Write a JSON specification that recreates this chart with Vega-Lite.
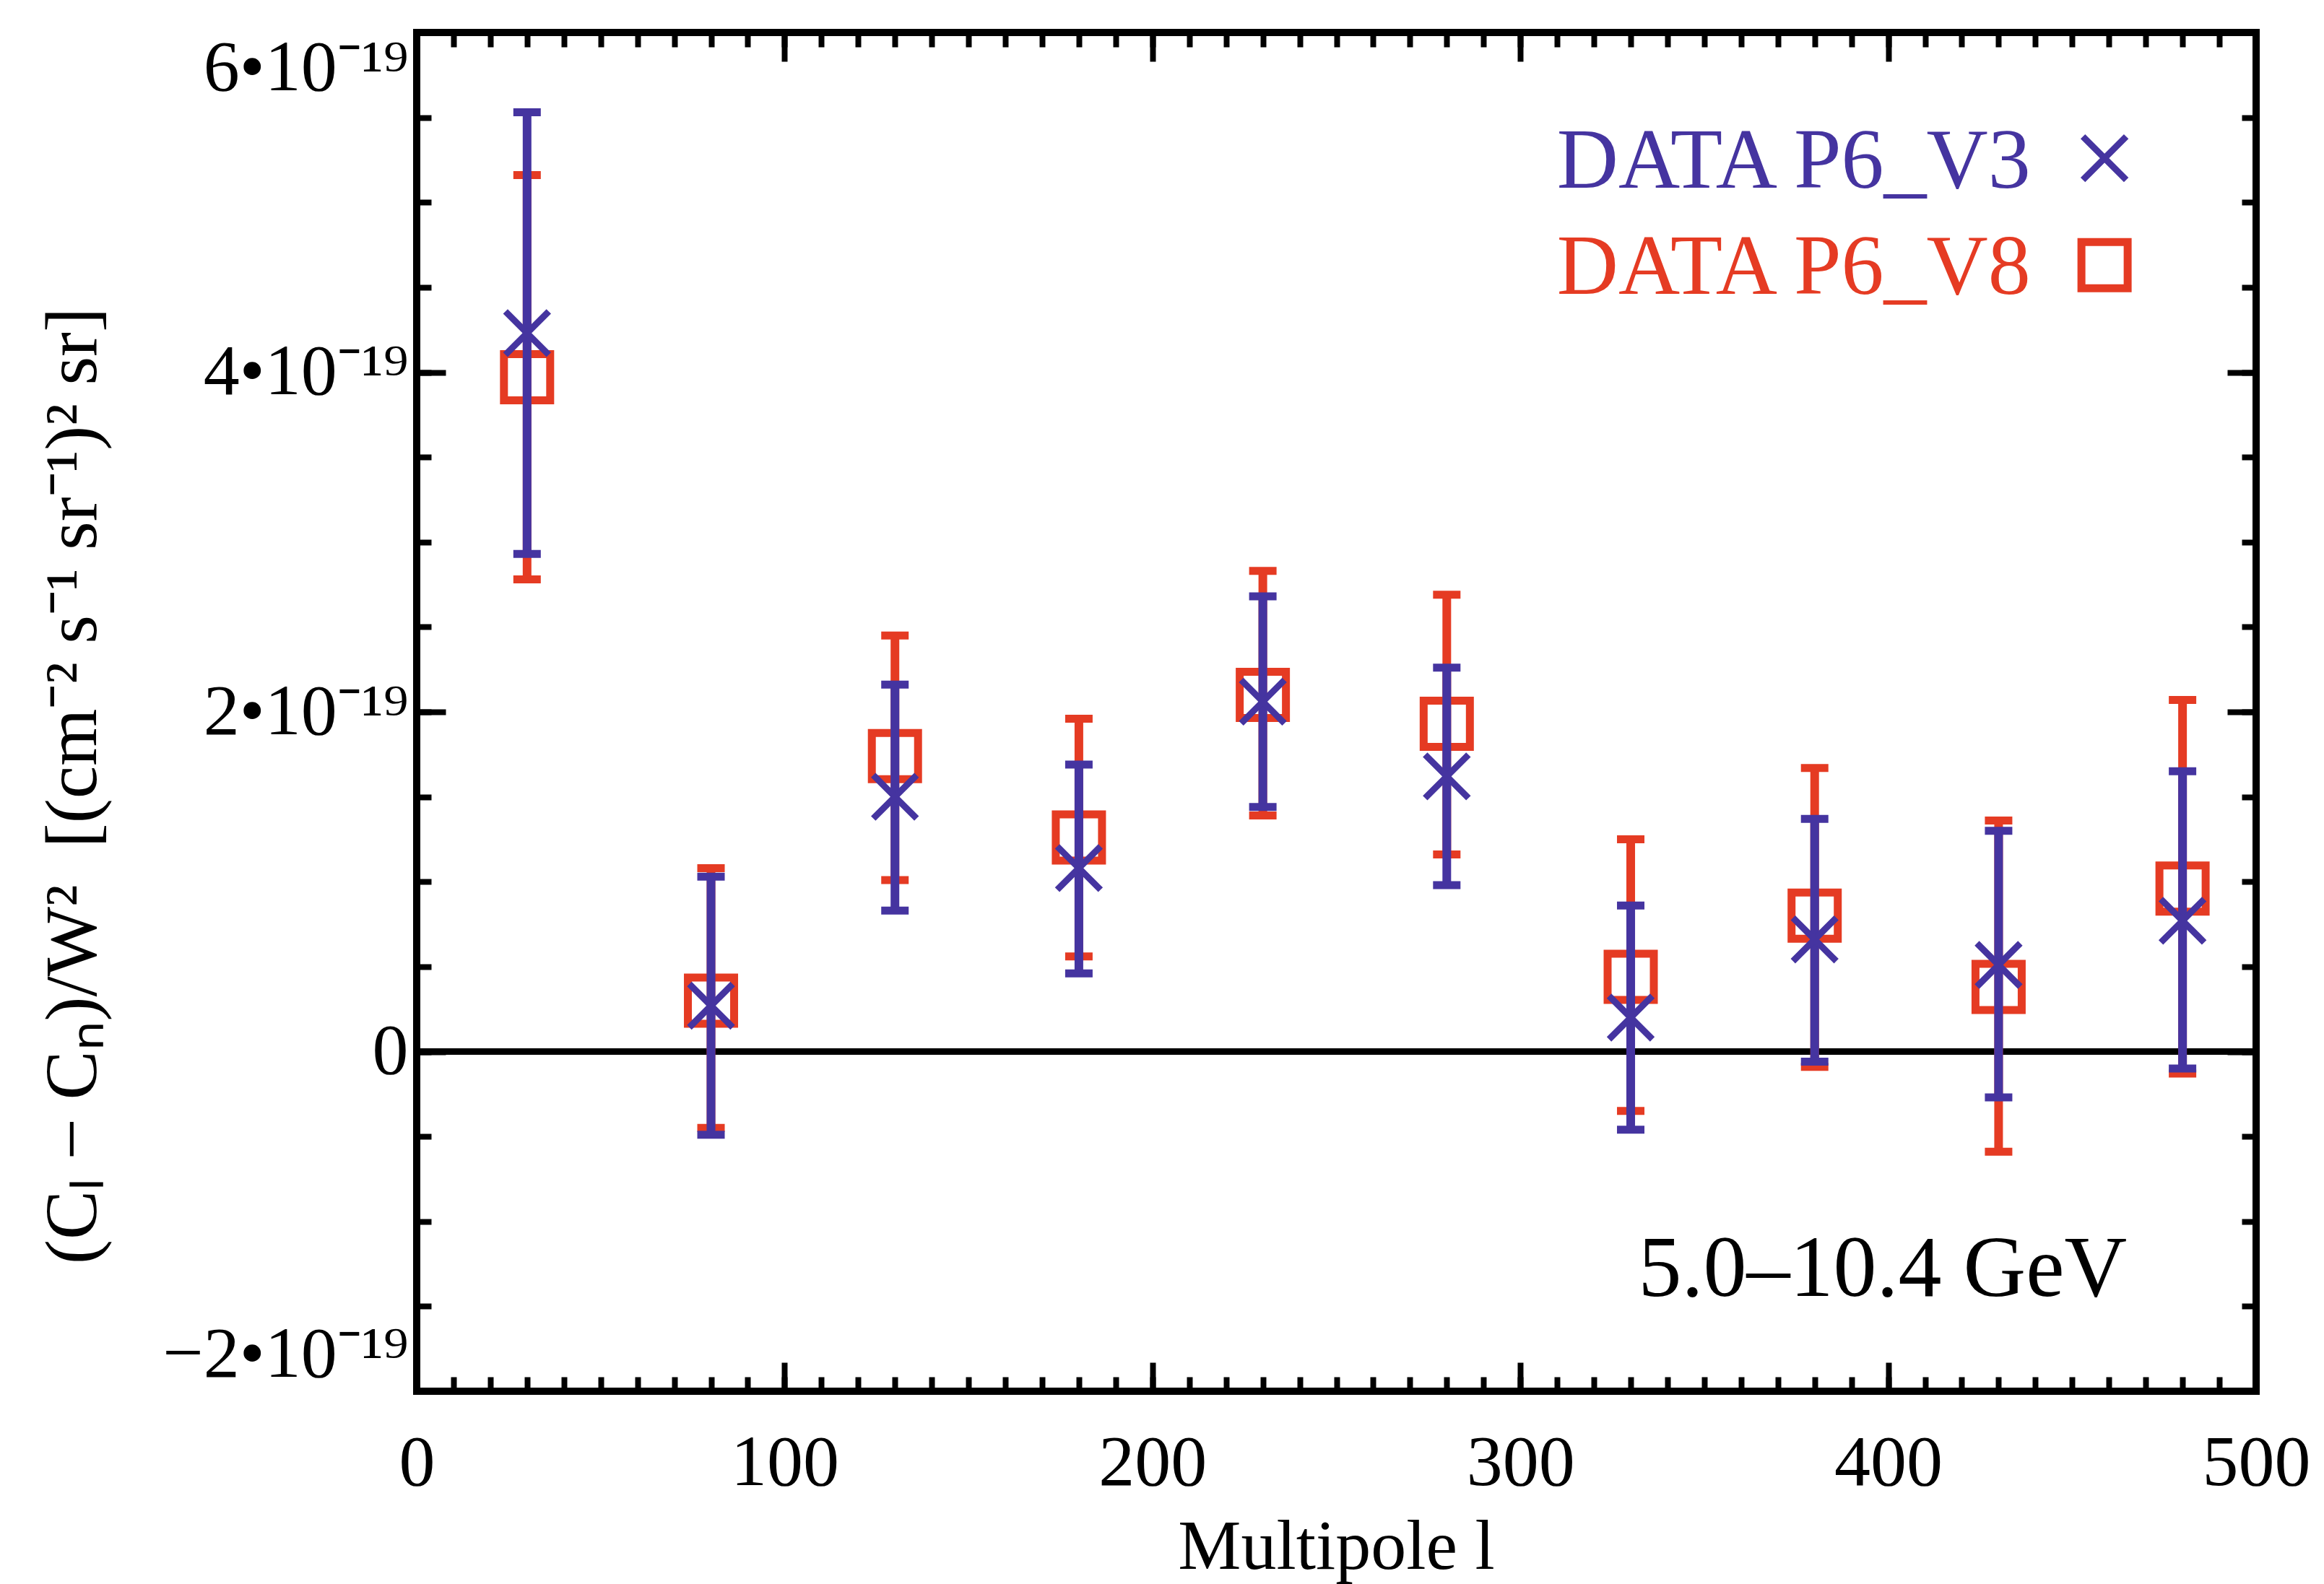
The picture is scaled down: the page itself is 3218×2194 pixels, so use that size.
{
  "$schema": "https://vega.github.io/schema/vega-lite/v6.json",
  "width": 2547,
  "height": 1882,
  "autosize": {"type": "none"},
  "padding": {"left": 577, "top": 45, "right": 94, "bottom": 267},
  "background": "white",
  "config": {
    "view": {"stroke": "black", "strokeWidth": 10},
    "font": "Liberation Serif",
    "axis": {"grid": false, "domain": false, "labelColor": "black", "titleColor": "black", "tickColor": "black", "labelLimit": 0}
  },
  "data": {
    "values": [
      {"l": 30, "series": "DATA P6_V8", "v": 3.97e-19, "lo": 2.78e-19, "hi": 5.16e-19},
      {"l": 80, "series": "DATA P6_V8", "v": 0.30e-19, "lo": -0.45e-19, "hi": 1.08e-19},
      {"l": 130, "series": "DATA P6_V8", "v": 1.74e-19, "lo": 1.01e-19, "hi": 2.45e-19},
      {"l": 180, "series": "DATA P6_V8", "v": 1.26e-19, "lo": 0.56e-19, "hi": 1.96e-19},
      {"l": 230, "series": "DATA P6_V8", "v": 2.10e-19, "lo": 1.39e-19, "hi": 2.83e-19},
      {"l": 280, "series": "DATA P6_V8", "v": 1.93e-19, "lo": 1.16e-19, "hi": 2.69e-19},
      {"l": 330, "series": "DATA P6_V8", "v": 0.44e-19, "lo": -0.35e-19, "hi": 1.25e-19},
      {"l": 380, "series": "DATA P6_V8", "v": 0.80e-19, "lo": -0.09e-19, "hi": 1.67e-19},
      {"l": 430, "series": "DATA P6_V8", "v": 0.38e-19, "lo": -0.59e-19, "hi": 1.36e-19},
      {"l": 480, "series": "DATA P6_V8", "v": 0.96e-19, "lo": -0.13e-19, "hi": 2.07e-19},
      {"l": 30, "series": "DATA P6_V3", "v": 4.23e-19, "lo": 2.93e-19, "hi": 5.53e-19},
      {"l": 80, "series": "DATA P6_V3", "v": 0.27e-19, "lo": -0.49e-19, "hi": 1.03e-19},
      {"l": 130, "series": "DATA P6_V3", "v": 1.50e-19, "lo": 0.83e-19, "hi": 2.16e-19},
      {"l": 180, "series": "DATA P6_V3", "v": 1.08e-19, "lo": 0.46e-19, "hi": 1.69e-19},
      {"l": 230, "series": "DATA P6_V3", "v": 2.06e-19, "lo": 1.44e-19, "hi": 2.68e-19},
      {"l": 280, "series": "DATA P6_V3", "v": 1.62e-19, "lo": 0.98e-19, "hi": 2.26e-19},
      {"l": 330, "series": "DATA P6_V3", "v": 0.20e-19, "lo": -0.46e-19, "hi": 0.86e-19},
      {"l": 380, "series": "DATA P6_V3", "v": 0.66e-19, "lo": -0.06e-19, "hi": 1.37e-19},
      {"l": 430, "series": "DATA P6_V3", "v": 0.51e-19, "lo": -0.27e-19, "hi": 1.30e-19},
      {"l": 480, "series": "DATA P6_V3", "v": 0.77e-19, "lo": -0.10e-19, "hi": 1.65e-19}
    ]
  },
  "resolve": {"axis": {"x": "independent", "y": "independent"}},
  "layer": [
    {
      "mark": {"type": "rule", "color": "black", "strokeWidth": 8},
      "encoding": {
        "y": {"datum": 0, "type": "quantitative", "scale": {"domain": [-2e-19, 6e-19], "nice": false, "zero": false},
          "axis": {"orient": "left", "values": [-2e-19, 0, 2e-19, 4e-19, 6e-19], "ticks": false, "labelFont": "Liberation Serif", "labelFontSize": 100, "labelPadding": 12, "labelFlush": true, "labelOverlap": false, "labelLimit": 0,
            "labelExpr": "datum.value == 0 ? '0' : (datum.value < 0 ? '\u2212' : '') + abs(round(datum.value * 1e19)) + '\u2022' + '10\u207b\u00b9\u2079'",
            "title": "(C\u2097 \u2212 C\u2099)/W\u00b2\u00a0\u00a0[(cm\u207b\u00b2\u00a0s\u207b\u00b9\u00a0sr\u207b\u00b9)\u00b2\u00a0sr]",
            "titleFont": "Liberation Serif", "titleFontSize": 102, "titleFontWeight": "normal", "titleAngle": -90, "titleAlign": "center", "titleBaseline": "alphabetic", "titleX": -445, "titleY": 1043, "titleLimit": 0}}
      }
    },
    {
      "transform": [{"filter": "datum.series == 'DATA P6_V8'"}],
      "mark": {"type": "rule", "color": "#e53b23", "strokeWidth": 12},
      "encoding": {
        "x": {"field": "l", "type": "quantitative", "scale": {"domain": [0, 500], "nice": false, "zero": false},
          "axis": {"orient": "bottom", "values": [0, 100, 200, 300, 400, 500], "ticks": false, "labelFont": "Liberation Serif", "labelFontSize": 100, "labelPadding": 50, "labelFlush": false, "labelOverlap": false,
            "title": "Multipole l", "titleFont": "Liberation Serif", "titleFontSize": 98, "titleFontWeight": "normal", "titleBaseline": "alphabetic", "titleAlign": "center", "titleX": 1273, "titleY": 245}},
        "y": {"field": "lo", "type": "quantitative", "scale": {"domain": [-2e-19, 6e-19], "nice": false, "zero": false},
          "axis": {"orient": "left", "values": [-2e-19, 0, 2e-19, 4e-19, 6e-19], "labels": false, "title": null, "tickSize": -40, "tickWidth": 8}},
        "y2": {"field": "hi"}
      }
    },
    {
      "transform": [{"filter": "datum.series == 'DATA P6_V8'"}],
      "mark": {"type": "tick", "orient": "horizontal", "color": "#e53b23", "size": 38, "thickness": 11, "opacity": 1},
      "encoding": {
        "x": {"field": "l", "type": "quantitative", "scale": {"domain": [0, 500], "nice": false, "zero": false},
          "axis": {"orient": "bottom", "values": [0, 100, 200, 300, 400, 500], "labels": false, "title": null, "tickSize": -40, "tickWidth": 8}},
        "y": {"field": "lo", "type": "quantitative", "scale": {"domain": [-2e-19, 6e-19], "nice": false, "zero": false},
          "axis": {"orient": "left", "values": [-2e-19, -1.5e-19, -1e-19, -0.5e-19, 0, 0.5e-19, 1e-19, 1.5e-19, 2e-19, 2.5e-19, 3e-19, 3.5e-19, 4e-19, 4.5e-19, 5e-19, 5.5e-19, 6e-19], "labels": false, "title": null, "tickSize": -20, "tickWidth": 8}}
      }
    },
    {
      "transform": [{"filter": "datum.series == 'DATA P6_V8'"}],
      "mark": {"type": "tick", "orient": "horizontal", "color": "#e53b23", "size": 38, "thickness": 11, "opacity": 1},
      "encoding": {
        "x": {"field": "l", "type": "quantitative", "scale": {"domain": [0, 500], "nice": false, "zero": false},
          "axis": {"orient": "bottom", "values": [0, 10, 20, 30, 40, 50, 60, 70, 80, 90, 100, 110, 120, 130, 140, 150, 160, 170, 180, 190, 200, 210, 220, 230, 240, 250, 260, 270, 280, 290, 300, 310, 320, 330, 340, 350, 360, 370, 380, 390, 400, 410, 420, 430, 440, 450, 460, 470, 480, 490, 500], "labels": false, "title": null, "tickSize": -20, "tickWidth": 8}},
        "y": {"field": "hi", "type": "quantitative", "scale": {"domain": [-2e-19, 6e-19], "nice": false, "zero": false},
          "axis": {"orient": "right", "values": [-2e-19, 0, 2e-19, 4e-19, 6e-19], "labels": false, "title": null, "tickSize": -40, "tickWidth": 8}}
      }
    },
    {
      "transform": [{"filter": "datum.series == 'DATA P6_V8'"}],
      "mark": {"type": "point", "shape": "square", "filled": false, "color": "#e53b23", "size": 4096, "strokeWidth": 11, "opacity": 1},
      "encoding": {
        "x": {"field": "l", "type": "quantitative", "scale": {"domain": [0, 500], "nice": false, "zero": false},
          "axis": {"orient": "top", "values": [0, 100, 200, 300, 400, 500], "labels": false, "title": null, "tickSize": -40, "tickWidth": 8}},
        "y": {"field": "v", "type": "quantitative", "scale": {"domain": [-2e-19, 6e-19], "nice": false, "zero": false},
          "axis": {"orient": "right", "values": [-2e-19, -1.5e-19, -1e-19, -0.5e-19, 0, 0.5e-19, 1e-19, 1.5e-19, 2e-19, 2.5e-19, 3e-19, 3.5e-19, 4e-19, 4.5e-19, 5e-19, 5.5e-19, 6e-19], "labels": false, "title": null, "tickSize": -20, "tickWidth": 8}}
      }
    },
    {
      "transform": [{"filter": "datum.series == 'DATA P6_V3'"}],
      "mark": {"type": "rule", "color": "#4534a0", "strokeWidth": 12},
      "encoding": {
        "x": {"field": "l", "type": "quantitative", "scale": {"domain": [0, 500], "nice": false, "zero": false},
          "axis": {"orient": "top", "values": [0, 10, 20, 30, 40, 50, 60, 70, 80, 90, 100, 110, 120, 130, 140, 150, 160, 170, 180, 190, 200, 210, 220, 230, 240, 250, 260, 270, 280, 290, 300, 310, 320, 330, 340, 350, 360, 370, 380, 390, 400, 410, 420, 430, 440, 450, 460, 470, 480, 490, 500], "labels": false, "title": null, "tickSize": -20, "tickWidth": 8}},
        "y": {"field": "lo", "type": "quantitative", "scale": {"domain": [-2e-19, 6e-19], "nice": false, "zero": false}, "axis": null},
        "y2": {"field": "hi"}
      }
    },
    {
      "transform": [{"filter": "datum.series == 'DATA P6_V3'"}],
      "mark": {"type": "tick", "orient": "horizontal", "color": "#4534a0", "size": 38, "thickness": 11, "opacity": 1},
      "encoding": {
        "x": {"field": "l", "type": "quantitative", "scale": {"domain": [0, 500], "nice": false, "zero": false}, "axis": null},
        "y": {"field": "lo", "type": "quantitative", "scale": {"domain": [-2e-19, 6e-19], "nice": false, "zero": false}, "axis": null}
      }
    },
    {
      "transform": [{"filter": "datum.series == 'DATA P6_V3'"}],
      "mark": {"type": "tick", "orient": "horizontal", "color": "#4534a0", "size": 38, "thickness": 11, "opacity": 1},
      "encoding": {
        "x": {"field": "l", "type": "quantitative", "scale": {"domain": [0, 500], "nice": false, "zero": false}, "axis": null},
        "y": {"field": "hi", "type": "quantitative", "scale": {"domain": [-2e-19, 6e-19], "nice": false, "zero": false}, "axis": null}
      }
    },
    {
      "transform": [{"filter": "datum.series == 'DATA P6_V3'"}],
      "mark": {"type": "point", "shape": "M-1,-1L1,1M-1,1L1,-1", "filled": false, "color": "#4534a0", "size": 3600, "strokeWidth": 9, "opacity": 1},
      "encoding": {
        "x": {"field": "l", "type": "quantitative", "scale": {"domain": [0, 500], "nice": false, "zero": false}, "axis": null},
        "y": {"field": "v", "type": "quantitative", "scale": {"domain": [-2e-19, 6e-19], "nice": false, "zero": false}, "axis": null}
      }
    },
    {
      "data": {"values": [
        {"lx": 438.7, "ly": 5.085e-19, "label": "DATA P6_V3", "c": "#4534a0"},
        {"lx": 438.7, "ly": 4.46e-19, "label": "DATA P6_V8", "c": "#e53b23"}
      ]},
      "mark": {"type": "text", "font": "Liberation Serif", "fontSize": 118, "align": "right", "baseline": "alphabetic"},
      "encoding": {
        "x": {"field": "lx", "type": "quantitative", "scale": {"domain": [0, 500], "nice": false, "zero": false}, "axis": null},
        "y": {"field": "ly", "type": "quantitative", "scale": {"domain": [-2e-19, 6e-19], "nice": false, "zero": false}, "axis": null},
        "text": {"field": "label"},
        "color": {"field": "c", "type": "nominal", "scale": null, "legend": null}
      }
    },
    {
      "data": {"values": [{"sx": 458.8, "sy": 5.26e-19}]},
      "mark": {"type": "point", "shape": "M-1,-1L1,1M-1,1L1,-1", "filled": false, "color": "#4534a0", "size": 3600, "strokeWidth": 9, "opacity": 1},
      "encoding": {
        "x": {"field": "sx", "type": "quantitative", "scale": {"domain": [0, 500], "nice": false, "zero": false}, "axis": null},
        "y": {"field": "sy", "type": "quantitative", "scale": {"domain": [-2e-19, 6e-19], "nice": false, "zero": false}, "axis": null}
      }
    },
    {
      "data": {"values": [{"sx": 458.8, "sy": 4.63e-19}]},
      "mark": {"type": "point", "shape": "square", "filled": false, "color": "#e53b23", "size": 4096, "strokeWidth": 11, "opacity": 1},
      "encoding": {
        "x": {"field": "sx", "type": "quantitative", "scale": {"domain": [0, 500], "nice": false, "zero": false}, "axis": null},
        "y": {"field": "sy", "type": "quantitative", "scale": {"domain": [-2e-19, 6e-19], "nice": false, "zero": false}, "axis": null}
      }
    },
    {
      "data": {"values": [{"tx": 464.9, "ty": -1.441e-19, "t": "5.0\u201310.4 GeV"}]},
      "mark": {"type": "text", "font": "Liberation Serif", "fontSize": 120, "align": "right", "baseline": "alphabetic", "color": "black"},
      "encoding": {
        "x": {"field": "tx", "type": "quantitative", "scale": {"domain": [0, 500], "nice": false, "zero": false}, "axis": null},
        "y": {"field": "ty", "type": "quantitative", "scale": {"domain": [-2e-19, 6e-19], "nice": false, "zero": false}, "axis": null},
        "text": {"field": "t"}
      }
    }
  ]
}
